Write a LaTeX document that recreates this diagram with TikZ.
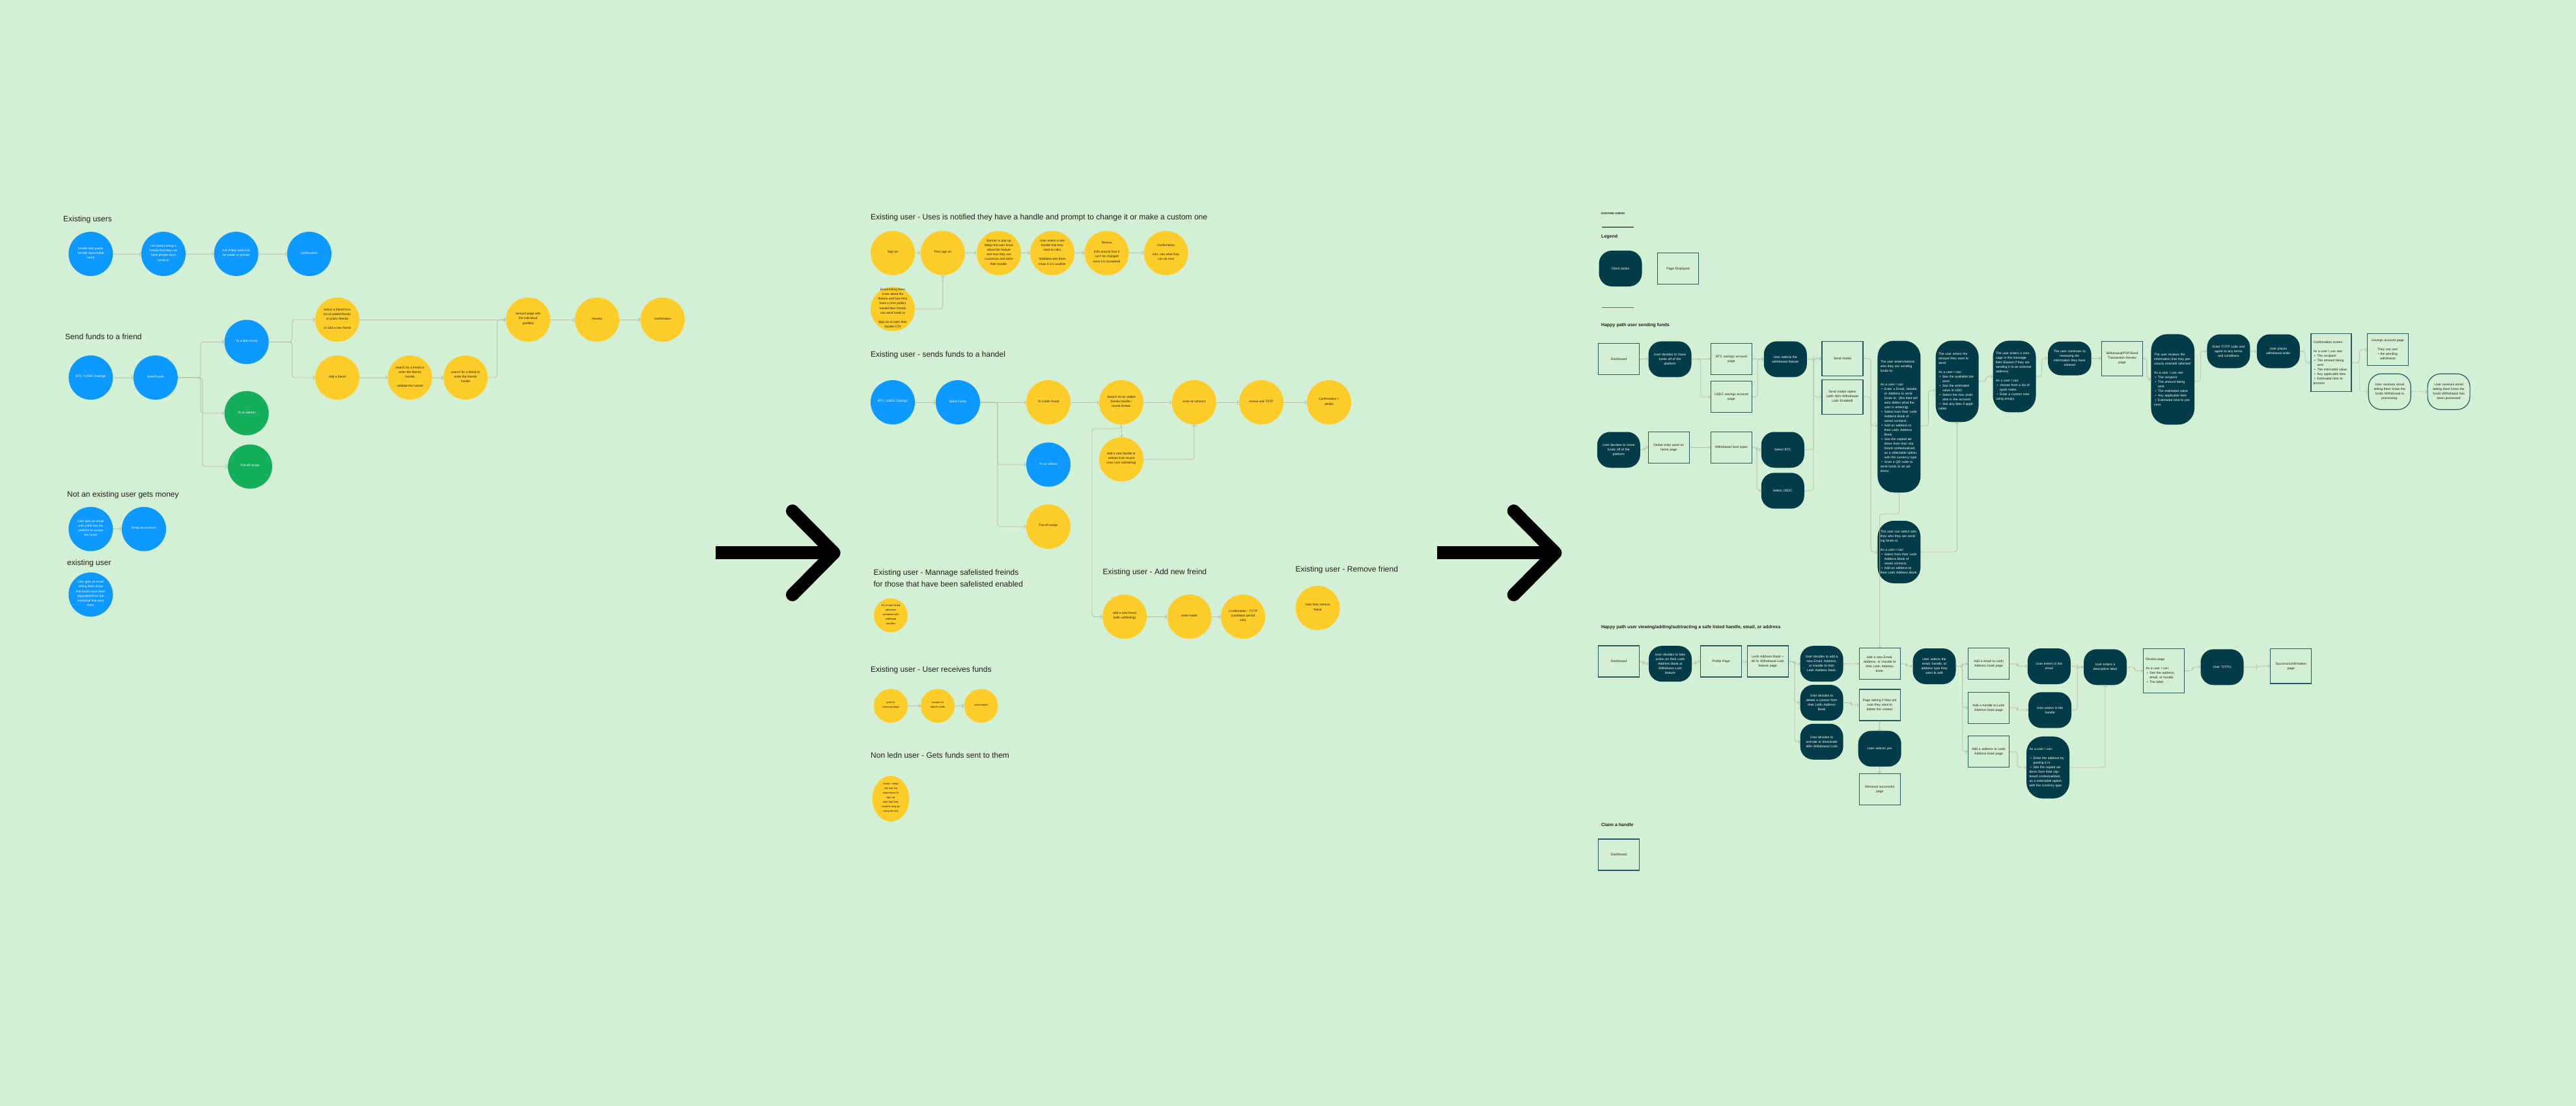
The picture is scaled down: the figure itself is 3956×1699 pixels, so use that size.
\documentclass[tikz,border=0pt]{standalone}
\usepackage{fontspec}
\setmainfont{Liberation Sans}
\usetikzlibrary{arrows.meta,shapes.geometric}
\definecolor{bgc}{HTML}{D4F0D4}
\definecolor{cblue}{HTML}{0D99FF}
\definecolor{cyel}{HTML}{FFCD29}
\definecolor{cgrn}{HTML}{14AE5C}
\definecolor{cdark}{HTML}{033C48}
\definecolor{cline}{HTML}{B0C2B0}
\definecolor{cbox}{HTML}{28585F}
\definecolor{ctxt}{HTML}{1E1E1E}
\definecolor{crule}{HTML}{5F705F}
\newcommand{\ct}[2][46pt]{\smash{\parbox{#1}{\centering #2}}}
\newcommand{\bi}{\par\hangindent=6pt\hangafter=1\noindent\hbox to 6pt{\hspace{1.5pt}\textbullet\hfil}}
\tikzset{
  circ/.style={circle, inner sep=0pt, minimum size=68pt, font=\fontsize{4.8}{7.2}\selectfont},
  bcirc/.style={circ, fill=cblue, text=white},
  ycirc/.style={circ, fill=cyel, text=ctxt},
  gcirc/.style={circ, fill=cgrn, text=white},
  scirc/.style={ycirc, minimum size=52pt, font=\fontsize{4}{7}\selectfont},
  ttl/.style={anchor=west, inner sep=0pt, font=\fontsize{12}{18}\selectfont, text=ctxt, align=left},
  conn/.style={draw=cline, line width=0.9pt, rounded corners=4pt, -{Straight Barb[length=2.6pt,width=6pt,line width=0.9pt]}},
  act/.style={fill=cdark, rounded corners=20pt, minimum width=66pt, minimum height=55pt, inner sep=0pt, text=white, align=center, text width=56pt, font=\fontsize{5}{7}\selectfont},
  actl/.style={act, rounded corners=25pt, align=left, text width=57pt},
  pg/.style={draw=cbox, line width=1.2pt, fill=bgc, minimum width=63pt, minimum height=48pt, inner sep=0pt, text=ctxt, align=center, text width=57pt, font=\fontsize{5}{7}\selectfont},
  mail/.style={draw=cbox, line width=1.2pt, rounded corners=20pt, minimum width=65pt, minimum height=55pt, inner sep=0pt, text=ctxt, align=center, text width=56pt, font=\fontsize{5}{7}\selectfont},
  rconn/.style={draw=cline, line width=0.8pt, rounded corners=4pt, {Circle[length=2.4pt,fill=white,line width=0.5pt]}-{Straight Barb[length=2.5pt,width=5pt,line width=0.8pt]}},
  rttl/.style={anchor=west, inner sep=0pt, font=\bfseries\fontsize{7}{9}\selectfont, text=ctxt},
  bigshaft/.style={line width=20pt, line cap=butt, draw=black},
  bighead/.style={line width=20pt, line cap=round, line join=round, draw=black},
}
\begin{document}
\begin{tikzpicture}[x=1pt,y=-1pt]
\fill[bgc] (0,0) rectangle (3956,1699);
\useasboundingbox (0,0) rectangle (3956,1699);

% ================= LEFT =================
\node[ttl] (tA) at (97,337) {Existing users};
\node[bcirc] (e1) at (139.3,390) {\ct{Create ledn public\\handel/ searchable\\name}};
\node[bcirc] (e2) at (251,390) {\ct{Let useres setup a\\handel that they can\\have people send\\funds to}};
\node[bcirc] (e3) at (362.7,390) {\ct{Ask if they want it to\\be public or private}};
\node[bcirc] (e4) at (475,390) {\ct{confirmation}};
\draw[conn] (e1) -- (e2);
\draw[conn] (e2) -- (e3);
\draw[conn] (e3) -- (e4);

\node[ttl] (tB) at (100,517) {Send funds to a friend};
\node[bcirc] (sf1) at (139.4,580) {\ct{BTC / USDC Savings}};
\node[bcirc] (sf2) at (238.9,580) {\ct{Send Funds}};
\node[bcirc] (sf3) at (378.7,525.3) {\ct{To a ledn friend}};
\node[gcirc] (sf4) at (378.7,634.7) {\ct{To an adress}};
\node[gcirc] (sf5) at (384,716.7) {\ct{Fiat off ramps}};
\node[ycirc] (sf6) at (518,491) {\ct{Select a friend from\\list of added friends\\or public friends\\[7.2pt]or add a new friend}};
\node[ycirc] (sf7) at (518,580) {\ct{Add a friend}};
\node[ycirc] (sf8) at (629.6,580) {\ct{search for a freind or\\enter the friends\\handel\\[7.2pt]validate the handel}};
\node[ycirc] (sf9) at (715,580) {\ct{search for a freind or\\enter the friends\\handel}};
\node[ycirc] (sf10) at (811,491) {\ct{Amount page with\\the individual\\prefilled}};
\node[ycirc] (sf11) at (917,491) {\ct{Review}};
\node[ycirc] (sf12) at (1017.7,491) {\ct{confirmation}};
\draw[conn] (sf1) -- (sf2);
\draw[conn] (sf2.east) -- ++(35,0) |- (sf3.west);
\draw[conn] (sf2.east) -- ++(35,0) |- (sf4.west);
\draw[conn] (sf2.east) -- ++(38,0) |- (sf5.west);
\draw[conn] (sf3.east) -- ++(35.6,0) |- (sf6.west);
\draw[conn] (sf3.east) -- ++(35.6,0) |- (sf7.west);
\draw[conn] (sf6) -- (sf10);
\draw[conn] (sf7) -- (sf8);
\draw[conn] (sf8) -- (sf9);
\draw[conn] (sf9.east) -- ++(14.3,0) |- (sf10.west);
\draw[conn] (sf10) -- (sf11);
\draw[conn] (sf11) -- (sf12);

\node[ttl] (tC) at (103,760.7) {Not an existing user gets money};
\node[bcirc] (ne1) at (139.3,812.7) {\ct{User gets an email\\with a link into the\\platform to accept\\the funds}};
\node[bcirc] (ne2) at (221,812.7) {\ct{Setup an account.}};
\draw[conn] (ne1) -- (ne2);
\node[ttl] (tD) at (103,865.7) {existing user};
\node[bcirc] (eu1) at (139.3,913.3) {\ct{User gets an email\\letting them know\\that funds have been\\depositied from the\\individual that sent\\them}};

% big arrows
\draw[bigshaft] (1099.3,849.3) -- (1278,849.3);
\draw[bighead] (1217,785) -- (1280.7,849.3) -- (1217,913.6);
\draw[bigshaft] (2207,849.3) -- (2385.7,849.3);
\draw[bighead] (2324.7,785) -- (2388.4,849.3) -- (2324.7,913.6);

% ================= MIDDLE =================
\node[ttl] (tE) at (1337,334) {Existing user - Uses is notified they have a handle and prompt to change it or make a custom one};
\node[ycirc] (h1) at (1371,388.7) {\ct{Sign on}};
\node[ycirc] (h2) at (1447.8,388.7) {\ct{Post sign on}};
\node[ycirc] (h3) at (1534,388.7) {\ct{Banner or pop up\\lettign the user know\\about the feature\\and how they can\\customize and calim\\their handle.}};
\node[ycirc] (h4) at (1616,388.7) {\ct{User enters in the\\handel that they\\want to calm\\[7.2pt]Validation lets them\\know if it is avalible}};
\node[ycirc] (h5) at (1699.6,388.7) {\ct{Review\\[7.2pt](info around how it\\can't be changed\\once it is accepted)}};
\node[ycirc] (h6) at (1790.6,388.7) {\ct{Confirmation\\[7.2pt]Info. Into what they\\can do next}};
\node[ycirc] (h7) at (1371,474.7) {\ct{Email letting them\\know about the\\feature and how they\\have a (non public)\\handel thier friends\\can send funds to\\[7.2pt]Sign on to calm their\\handel CTA}};
\draw[conn] (h1) -- (h2);
\draw[conn] (h2) -- (h3);
\draw[conn] (h3) -- (h4);
\draw[conn] (h4) -- (h5);
\draw[conn] (h5) -- (h6);
\draw[conn] (h7.east) -| (h2.south);

\node[ttl] (tF) at (1337,545) {Existing user - sends funds to a handel};
\node[bcirc] (s1) at (1371,618) {\ct{BTC / USDC Savings}};
\node[bcirc] (s2) at (1471,618) {\ct{Send Funds}};
\node[ycirc] (s3) at (1610,618) {\ct{To a ledn freind}};
\node[ycirc] (s4) at (1722,618) {\ct{Search for an added\\friends handle /\\recent freinds}};
\node[ycirc] (s5) at (1833.8,618) {\ct{enter an amount}};
\node[ycirc] (s6) at (1937,618) {\ct{review and TOTP}};
\node[ycirc] (s7) at (2041,618) {\ct{Confirmation +\\details}};
\node[bcirc] (s8) at (1610,713.7) {\ct{To an adress}};
\node[ycirc] (s9) at (1610,809) {\ct{Fiat off ramps}};
\node[ycirc] (s10) at (1722,705.7) {\ct{Add a new handle or\\seleact from recent\\ones (w/o safelisting)}};
\draw[conn] (s1) -- (s2);
\draw[conn] (s2) -- (s3);
\draw[conn] (s2.east) -- ++(26.7,0) |- (s8.west);
\draw[conn] (s2.east) -- ++(26.7,0) |- (s9.west);
\draw[conn] (s3) -- (s4);
\draw[conn] (s4) -- (s5);
\draw[conn] (s5) -- (s6);
\draw[conn] (s6) -- (s7);
\draw[conn] (s4.south) -- (s10.north);
\draw[conn] (s10.east) -| (s5.south);

\node[ttl] (tG) at (1341.4,888.3) {Existing user - Mannage safelisted freinds\\for those that have been safelisted enabled};
\node[scirc] (m1) at (1368,945.3) {\ct[40pt]{list of safe listed\\adresses\\combined with\\safelisted\\handles}};

\node[ttl] (tH) at (1693.5,879.3) {Existing user - Add new freind};
\node[ycirc] (a1) at (1727,947.3) {\ct{Add a new friend\\(with safelisting)}};
\node[ycirc] (a2) at (1826.6,947.3) {\ct{enter hadel}};
\node[ycirc] (a3) at (1909,947.3) {\ct{Confirmation - TOTP\\(cooldown period\\info)}};
\draw[conn] (a1) -- (a2);
\draw[conn] (a2) -- (a3);
\draw[conn] (s4.south) -- ++(0,6) -- ++(-45,0) |- (a1.west);

\node[ttl] (tI) at (1989.4,875) {Existing user - Remove friend};
\node[ycirc] (rm1) at (2023.6,934) {\ct{User licks remove\\friend}};

\node[ttl] (tJ) at (1337,1029.3) {Existing user - User receives funds};
\node[scirc] (u1) at (1368,1084.3) {\ct[40pt]{goes to\\scavings page}};
\node[scirc] (u2) at (1440,1084.3) {\ct[40pt]{accepts or\\rejects funds}};
\node[scirc] (u3) at (1506.7,1084.3) {\ct[40pt]{confirmation}};
\draw[conn] (u1) -- (u2);
\draw[conn] (u2) -- (u3);

\node[ttl] (tK) at (1337,1160) {Non ledn user - Gets funds sent to them};
\node[ellipse, fill=cyel, inner sep=0pt, minimum width=52pt, minimum height=70pt, font=\fontsize{4}{7}\selectfont, text=ctxt] (n1) at (1368,1227) {\ct[40pt]{email + deep\\link into the\\experience to\\sign up\\note that they\\need to sing up\\using the link}};

% ================= RIGHT =================
\node[anchor=west, inner sep=0pt, font=\bfseries\fontsize{4.3}{5}\selectfont, text=ctxt] (tL) at (2459,328) {EXISTING USERS};
\draw[crule, line width=1.3pt] (2460,349) -- (2509,349);
\node[rttl] (tM) at (2459,364) {Legend};
\node[act] (lg1) at (2488.5,412.5) {Client action};
\node[pg] (lg2) at (2577,412.8) {Page Displayed};
\draw[crule, line width=1.3pt] (2460,472.7) -- (2509,472.7);
\node[rttl] (tN) at (2459,499.3) {Happy path user sending funds};

\node[pg] (r1) at (2486,551.8) {Dashboard};
\node[act] (r2) at (2564.5,551.8) {User decides to move\\funds off of the\\platform};
\node[pg] (r3) at (2659,551.8) {BTC savings account\\page};
\node[pg] (r4) at (2659,609.8) {USDC savings account\\page};
\node[act] (r5) at (2741.8,551.8) {User selects the\\withdrawal feature};
\node[pg, minimum height=53pt] (r6) at (2829.5,550.7) {Send modal};
\node[pg, minimum height=53pt] (r7) at (2829.5,609.7) {Send modal opens\\(with 48hr Withdrawal\\Lock Enabled)};
\node[actl, minimum height=233pt] (r8) at (2916.4,640) {The user enters/selects who they are sending funds to.\par\vspace{14pt}As a user I can:\bi Enter a Email, Handle, or Address to send funds to. (this field will auto detect what the user is entering).\bi Select from their Ledn Address Book of saved contacts.\bi Add an address to their Ledn Address Book.\bi See the copied address from their clipboard contextualized, as a selectable option, with the currency type.\bi Scan a QR code to send funds to an address.};
\node[actl, minimum height=125pt] (r9) at (3005.6,585.8) {The user enters the amount they want to send\par\vspace{7pt}As a user I can:\bi See the available balance.\bi See the estimated value in USD.\bi Select the max available in the account.\bi See any fees if applicable.};
\node[actl, minimum height=110pt] (r10) at (3093.5,578.3) {The user enters a message in the message field (Expect if they are sending it to an external address)\par\vspace{7pt}As a user I can:\bi choose from a list of quick notes.\bi Enter a custom note using emojis.};
\node[act, minimum width=66.6pt, minimum height=52pt] (r11) at (3178.3,550.5) {The user continues to\\reviewing the\\information they have\\entered};
\node[pg, minimum height=53pt] (r12) at (3259,550.7) {Withdrawal/P2P/Send\\Transaction Review\\page};
\node[actl, minimum width=66.6pt, minimum height=139pt] (r13) at (3336.7,582.8) {The user reviews the information that they previously entered/ selected\par\vspace{7pt}As a user I can see:\bi The recipient\bi The amount being sent\bi The estimated value\bi Any applicable fees\bi Estimated time to process};
\node[act, minimum height=52pt] (r14) at (3422.4,539.5) {Enter TOTP code and\\agree to any terms\\and conditions};
\node[act, minimum height=52pt] (r15) at (3498.8,539.5) {User places\\withdrawal order};
\node[pg, minimum width=62pt, minimum height=89pt, align=left, text width=55pt] (r16) at (3580,557.3) {Confirmation screen\par\vspace{7pt}As a user I can see:\bi The recipient\bi The amount being sent\bi The estimated value\bi Any applicable fees\bi Estimated time to process};
\node[pg, minimum width=62.5pt, minimum height=48.7pt] (r17) at (3667,537) {Savings account page\\[7pt]They can see:\\\textbullet\ the pending\\withdrawal};
\node[mail] (r18) at (3669.8,601.7) {User receives email\\letting them know the\\funds Withdrawal is\\processing.};
\node[mail] (r19) at (3760.6,601.7) {User receives email\\letting them know the\\funds Withdrawal has\\been processed};

\node[act] (q1) at (2485.8,691) {User decides to move\\funds off of the\\platform};
\node[pg] (q2) at (2562.7,687.5) {Global entry point on\\home page};
\node[pg] (q3) at (2659,687.5) {Withdrawal fund types};
\node[act] (q4) at (2737.8,691) {Select BTC};
\node[act] (q5) at (2737.8,753.8) {Select USDC};
\node[actl, minimum height=96pt] (q6) at (2916.4,848) {The user can select who they who they are sending funds to.\par\vspace{7pt}As a user I can:\bi Select from their Ledn Address Book of saved contacts.\bi Add an address to their Ledn Address Book.};

\draw[rconn] (r1) -- (r2);
\draw[rconn] (r2) -- (r3);
\draw[rconn] (r2.east) -- ++(14,0) |- (r4.west);
\draw[rconn] (r3) -- (r5);
\draw[rconn] (r4.east) -- ++(8,0) |- (r5.west);
\draw[rconn] (r5.east) -- ++(10,0) |- (r6.west);
\draw[rconn] (r5.east) -- ++(10,0) |- (r7.west);
\draw[rconn] (q4.east) -- ++(14,0) |- (r6.west);
\draw[rconn] (q5.east) -- ++(14,0) |- (r6.west);
\draw[rconn] (q1.east) -- ++(6,0) |- (q2.west);
\draw[rconn] (q2) -- (q3);
\draw[rconn] (q3.east) -- ++(7,0) |- (q4.west);
\draw[rconn] (q3.east) -- ++(7,0) |- (q5.west);
\draw[rconn] (r6.east) -- ++(11.5,0) |- ([yshift=-14pt]r8.west);
\draw[rconn] (r7.east) -- ++(11.5,0) |- (q6.west);
\draw[rconn] ([yshift=-14pt]r8.east) -- ++(12,0) |- ([yshift=-14pt]r9.west);
\draw[rconn] (q6.east) -| (r9.south);
\draw[rconn] (r9.east) -- ++(11,0) |- (r10.west);
\draw[rconn] (r10.east) -- ++(9,0) |- (r11.west);
\draw[rconn] (r11) -- (r12);
\draw[rconn] (r12.east) -- ++(6,0) |- (r13.west);
\draw[rconn] ([yshift=-3pt]r13.east) -- ++(9,0) |- (r14.west);
\draw[rconn] (r14) -- (r15);
\draw[rconn] (r15.east) -- ++(8,0) |- (r16.west);
\draw[rconn] (r16.east) -- ++(12,0) |- (r17.west);
\draw[rconn, densely dotted] (r16.east) -- ++(12,0) |- (r18.west);
\draw[rconn, densely dotted] (r18) -- (r19);

% second flow
\node[rttl] (tO) at (2458.8,964) {Happy path user viewing/adding/subtracting a safe listed handle, email, or address};
\node[pg] (t1) at (2486,1016) {Dashboard};
\node[act] (t2) at (2565,1019.7) {User decides to take\\action on their Ledn\\Address Book or\\Withdraws Lock\\feature};
\node[pg] (t3) at (2643,1016) {Profile Page};
\node[pg] (t4) at (2714.8,1016) {Ledn Address Book +\\48 hr Withdrawal Lock\\feature page};
\node[act] (t5) at (2797.6,1019.7) {User decides to add a\\new Email, Address,\\or Handle to their\\Ledn Address book.};
\node[act] (t6) at (2797.6,1079.5) {User decides to\\delete a contact from\\their Ledn Address\\Book};
\node[act] (t7) at (2797.6,1139.3) {User decides to\\activate or deactivate\\48hr Withdrawal Lock};
\node[pg] (t8) at (2886.7,1019.8) {Add a new Email,\\Address, or Handle to\\their Ledn Address\\book.};
\node[pg] (t9) at (2886.7,1083) {Page asking if they are\\sure they want to\\delete the contact};
\node[act] (t10) at (2886.7,1150.2) {User selects yes};
\node[pg] (t11) at (2886.7,1212.8) {Removal successful\\page};
\node[act] (t12) at (2970.5,1023.5) {User selects the\\email, handle, or\\address type they\\want to add};
\node[pg] (t13) at (3054,1019.8) {Add a email to Ledn\\Address book page};
\node[pg] (t14) at (3054,1087.3) {Add a handle to Ledn\\Address book page};
\node[pg] (t15) at (3054,1154.8) {Add a address to Ledn\\Address book page};
\node[act] (t16) at (3146.8,1023.5) {User enters in the\\email};
\node[act] (t17) at (3148,1090.8) {User enters in the\\handle};
\node[actl, minimum height=95.3pt] (t18) at (3145,1179) {As a user I can:\par\vspace{7pt}\bi Enter the address by pasting it in.\bi See the copied address from their clipboard contextualized, as a selectable option, with the currency type.};
\node[act] (t19) at (3233,1024.8) {User enters a\\descriptive label};
\node[pg, minimum height=67.7pt, align=left, text width=55pt] (t20) at (3322.8,1030.5) {Review page\par\vspace{7pt}As a user I can:\bi See the address, email, or handle.\bi The label};
\node[act] (t21) at (3412.5,1024.8) {User TOTPs};
\node[pg, minimum height=53.3pt] (t22) at (3518.3,1023.3) {Success/confirmation\\page};

\draw[rconn] (t1.east) -- ++(6,0) |- (t2.west);
\draw[rconn] (t2.east) -- ++(6,0) |- (t3.west);
\draw[rconn] (t3) -- (t4);
\draw[rconn] (t4.east) -- ++(9,0) |- (t5.west);
\draw[rconn] (t4.east) -- ++(9,0) |- (t6.west);
\draw[rconn] (t4.east) -- ++(9,0) |- (t7.west);
\draw[rconn] (t5) -- (t8);
\draw[rconn] (t6.east) -- ++(12,0) |- (t9.west);
\draw[rconn] (t9) -- (t10);
\draw[rconn] (t10) -- (t11);
\draw[rconn] (r8.south) -- ++(0,33) -| (t8.north);
\draw[rconn] (t8.east) -- ++(9,0) |- (t12.west);
\draw[rconn] (t12.east) -- ++(10,0) |- (t13.west);
\draw[rconn] (t12.east) -- ++(10,0) |- (t14.west);
\draw[rconn] (t12.east) -- ++(10,0) |- (t15.west);
\draw[rconn] (t13.east) -- ++(12,0) |- (t16.west);
\draw[rconn] (t14.east) -- ++(12,0) |- (t17.west);
\draw[rconn] (t15.east) -- ++(12,0) |- (t18.west);
\draw[rconn] (t16.east) -- ++(10,0) |- (t19.west);
\draw[rconn] (t17.east) -- ++(9,0) |- (t19.west);
\draw[rconn] (t18.east) -| (t19.south);
\draw[rconn] (t19.east) -- ++(12,0) |- (t20.west);
\draw[rconn] (t20.east) -- ++(12,0) |- (t21.west);
\draw[rconn] (t21.east) -- ++(20,0) |- (t22.west);

\node[rttl] (tP) at (2458.8,1266.7) {Claim a handle};
\node[pg] (c1) at (2486,1313) {Dashboard};
\end{tikzpicture}
\end{document}
